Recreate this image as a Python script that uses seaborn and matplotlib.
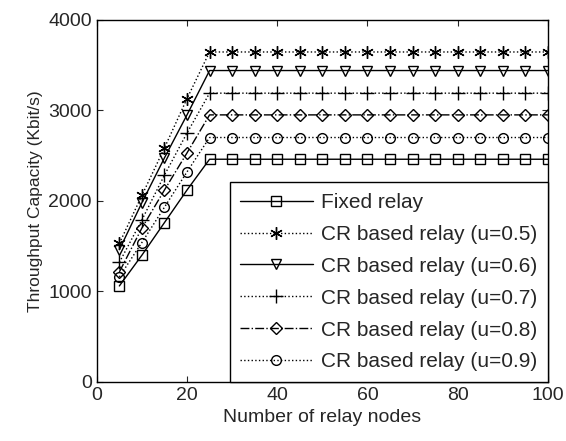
import matplotlib
matplotlib.use("Agg")
import matplotlib.pyplot as plt
import pandas as pd
import seaborn as sns

# Relay node counts on the x axis
relay_nodes = [5, 10, 15, 20, 25, 30, 35, 40, 45, 50,
               55, 60, 65, 70, 75, 80, 85, 90, 95, 100]

# Throughput capacity (Kbit/s)
fixed_relay = [1060, 1400, 1760, 2120, 2460, 2460, 2460, 2460, 2460, 2460,
               2460, 2460, 2460, 2460, 2460, 2460, 2460, 2460, 2460, 2460]
cr_u05 = [1530, 2060, 2585, 3130, 3645, 3645, 3645, 3645, 3645, 3645,
          3645, 3645, 3645, 3645, 3645, 3645, 3645, 3645, 3645, 3645]
cr_u06 = [1460, 1980, 2475, 2950, 3440, 3440, 3440, 3440, 3440, 3440,
          3440, 3440, 3440, 3440, 3440, 3440, 3440, 3440, 3440, 3440]
cr_u07 = [1320, 1790, 2285, 2750, 3190, 3190, 3190, 3190, 3190, 3190,
          3190, 3190, 3190, 3190, 3190, 3190, 3190, 3190, 3190, 3190]
cr_u08 = [1215, 1700, 2120, 2530, 2950, 2950, 2950, 2950, 2950, 2950,
          2950, 2950, 2950, 2950, 2950, 2950, 2950, 2950, 2950, 2950]
cr_u09 = [1160, 1540, 1930, 2320, 2700, 2700, 2700, 2700, 2700, 2700,
          2700, 2700, 2700, 2700, 2700, 2700, 2700, 2700, 2700, 2700]

series_labels = ["Fixed relay",
                 "CR based relay (u=0.5)",
                 "CR based relay (u=0.6)",
                 "CR based relay (u=0.7)",
                 "CR based relay (u=0.8)",
                 "CR based relay (u=0.9)"]
series_values = [fixed_relay, cr_u05, cr_u06, cr_u07, cr_u08, cr_u09]

# MATLAB-like line styles / markers for each curve
styles = [
    dict(linestyle="-", marker="s", ms=7),
    dict(linestyle=":", marker=(6, 2, 0), ms=9),
    dict(linestyle="-", marker="v", ms=7),
    dict(linestyle=":", marker="+", ms=10),
    dict(linestyle="-.", marker="D", ms=6),
    dict(linestyle=":", marker="o", ms=7),
]

sns.set_style("ticks")
plt.rcParams["font.family"] = ["Liberation Sans", "DejaVu Sans"]

fig = plt.figure(figsize=(5.66, 4.41), dpi=100)
ax = fig.add_axes([0.171, 0.134, 0.797, 0.821])

for label, values, st in zip(series_labels, series_values, styles):
    df = pd.DataFrame({"nodes": relay_nodes, "throughput": values})
    sns.lineplot(
        data=df, x="nodes", y="throughput", ax=ax,
        color="black", linewidth=1.0, label=label,
        linestyle=st["linestyle"], marker=st["marker"], markersize=st["ms"],
        markerfacecolor="none", markeredgecolor="black", markeredgewidth=1.0,
    )

ax.set_xlim(0, 100)
ax.set_ylim(0, 4000)
ax.set_xticks([0, 20, 40, 60, 80, 100])
ax.set_yticks([0, 1000, 2000, 3000, 4000])
ax.tick_params(direction="in", top=True, right=True, labelsize=14, length=4)
for side in ax.spines.values():
    side.set_visible(True)
    side.set_color("black")
    side.set_linewidth(1.0)

ax.set_xlabel("Number of relay nodes", fontsize=14)
ax.set_ylabel("Throughput Capacity (Kbit/s)", fontsize=12.5)

leg = ax.legend(loc="lower right", fontsize=15, frameon=True, fancybox=False,
                borderaxespad=0.0, handlelength=3.5, labelspacing=0.62,
                handletextpad=0.4, borderpad=0.5,
                edgecolor="black", framealpha=1.0)
leg.get_frame().set_linewidth(1.0)

fig.savefig("out.png", dpi=100)
